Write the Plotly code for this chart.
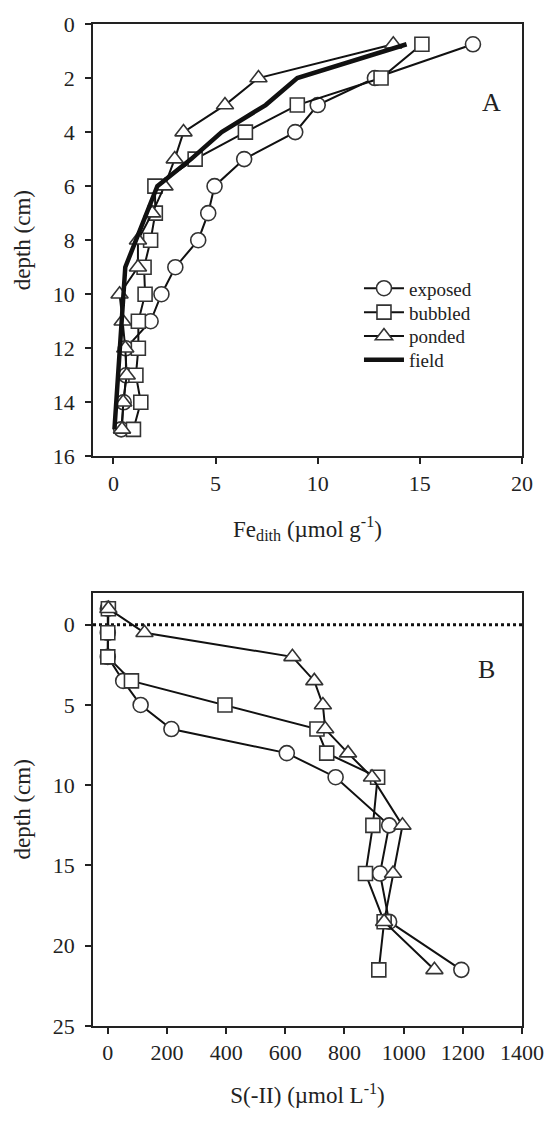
import plotly.graph_objects as go

# ---------- Panel A data (Fe_dith, µmol/g vs depth, cm) ----------
depthA = [0.75, 2, 3, 4, 5, 6, 7, 8, 9, 10, 11, 12, 13, 14, 15]
exposedA = [17.6, 12.8, 10.0, 8.9, 6.4, 4.95, 4.64, 4.15, 3.03, 2.35, 1.82, 0.6, 0.62, 0.5, 0.38]
bubbledA = [15.1, 13.1, 9.0, 6.46, 4.0, 2.03, 2.05, 1.82, 1.5, 1.55, 1.22, 1.22, 1.1, 1.34, 0.98]
pondedA = [13.7, 7.1, 5.46, 3.43, 3.0, 2.5, 1.9, 1.2, 1.2, 0.3, 0.45, 0.58, 0.65, 0.48, 0.42]
depthField = [0.75, 2, 3, 4, 5, 6, 9, 12, 15]
fieldA = [14.35, 9.0, 7.45, 5.3, 3.8, 2.15, 0.58, 0.32, 0.05]

# ---------- Panel B data (S(-II), µmol/L vs depth, cm) ----------
depthB = [-1, 0.5, 2, 3.5, 5, 6.5, 8, 9.5, 12.5, 15.5, 18.5, 21.5]
exposedB = [0, 0, 0, 52, 111, 215, 605, 770, 951, 920, 951, 1195]
bubbledB = [2, 0, 0, 80, 396, 707, 740, 912, 896, 871, 934, 916]
pondedB = [2, 124, 624, 698, 727, 735, 812, 893, 996, 964, 934, 1104]

xticksA = [0, 5, 10, 15, 20]
yticksA = [0, 2, 4, 6, 8, 10, 12, 14, 16]
xticksB = [0, 200, 400, 600, 800, 1000, 1200, 1400]
yticksB = [0, 5, 10, 15, 20, 25]

FONT = "Liberation Serif"
LINE_C = "#111111"
MK_C = "#333333"
TXT_C = "#222222"

fig = go.Figure()

series = [
    ("exposed", "circle", exposedA, exposedB, 15, "legend"),
    ("bubbled", "square", bubbledA, bubbledB, 14, "legend2"),
    ("ponded", "triangle-up", pondedA, pondedB, 15, "legend3"),
]
for name, sym, a, b, sz, lg in series:
    mk = dict(symbol=sym, size=sz, color="white", line=dict(color=MK_C, width=1.6))
    fig.add_trace(go.Scatter(x=a, y=depthA, mode="lines+markers", name=name,
                             line=dict(color=LINE_C, width=2), marker=mk,
                             xaxis="x", yaxis="y", showlegend=True, legend=lg))
fig.add_trace(go.Scatter(x=fieldA, y=depthField, mode="lines", name="field",
                         line=dict(color=LINE_C, width=4.5),
                         xaxis="x", yaxis="y", showlegend=True, legend="legend4"))

# dotted zero line in panel B
fig.add_trace(go.Scatter(x=[-50, 1400], y=[0, 0], mode="lines",
                         line=dict(color=LINE_C, width=3, dash="dot"),
                         xaxis="x2", yaxis="y2", showlegend=False, hoverinfo="skip"))
for name, sym, a, b, sz, lg in series:
    mk = dict(symbol=sym, size=sz, color="white", line=dict(color=MK_C, width=1.6))
    fig.add_trace(go.Scatter(x=b, y=depthB, mode="lines+markers", name=name,
                             line=dict(color=LINE_C, width=2), marker=mk,
                             xaxis="x2", yaxis="y2", showlegend=False))

axis_common = dict(showline=True, linecolor=TXT_C, linewidth=1.5, mirror=True,
                   ticks="outside", ticklen=6, tickwidth=1.5, tickcolor=TXT_C,
                   showgrid=False, zeroline=False,
                   tickfont=dict(family=FONT, size=22, color=TXT_C))
yextra = dict(ticklabelstandoff=6)
TF = dict(family=FONT, size=23, color=TXT_C)


def leg(ypaper):
    return dict(x=0.62, y=ypaper, xanchor="left", yanchor="middle",
                bgcolor="rgba(0,0,0,0)", borderwidth=0,
                font=dict(family=FONT, size=19, color=TXT_C), itemwidth=40)


fig.update_layout(
    width=556, height=1124,
    margin=dict(l=93, r=28, t=18, b=98),
    paper_bgcolor="white", plot_bgcolor="white",
    font=dict(family=FONT, color=TXT_C),
    xaxis=dict(domain=[0, 1], anchor="y", range=[-1, 20], tickvals=xticksA,
               title=dict(text="Fe<sub>dith</sub> (µmol g<sup>-1</sup>)", font=TF, standoff=26),
               **axis_common),
    yaxis=dict(domain=[0.5685, 1.0], anchor="x", range=[16, 0], tickvals=yticksA,
               title=dict(text="depth (cm)", font=TF, standoff=16),
               **axis_common, **yextra),
    xaxis2=dict(domain=[0, 1], anchor="y2", range=[-50, 1400], tickvals=xticksB,
                title=dict(text="S(-II) (µmol L<sup>-1</sup>)", font=TF, standoff=23),
                **axis_common),
    yaxis2=dict(domain=[0, 0.4325], anchor="x2", range=[25, -2], tickvals=yticksB,
                title=dict(text="depth (cm)", font=TF, standoff=16),
                **axis_common, **yextra),
    legend=leg(0.7362),
    legend2=leg(0.7123),
    legend3=leg(0.6885),
    legend4=leg(0.6647),
    annotations=[
        dict(text="A", x=18.5, y=2.9, xref="x", yref="y", showarrow=False,
             font=dict(family=FONT, size=26, color=TXT_C)),
        dict(text="B", x=1280, y=2.8, xref="x2", yref="y2", showarrow=False,
             font=dict(family=FONT, size=26, color=TXT_C)),
    ],
)

fig.write_html("out.html")
